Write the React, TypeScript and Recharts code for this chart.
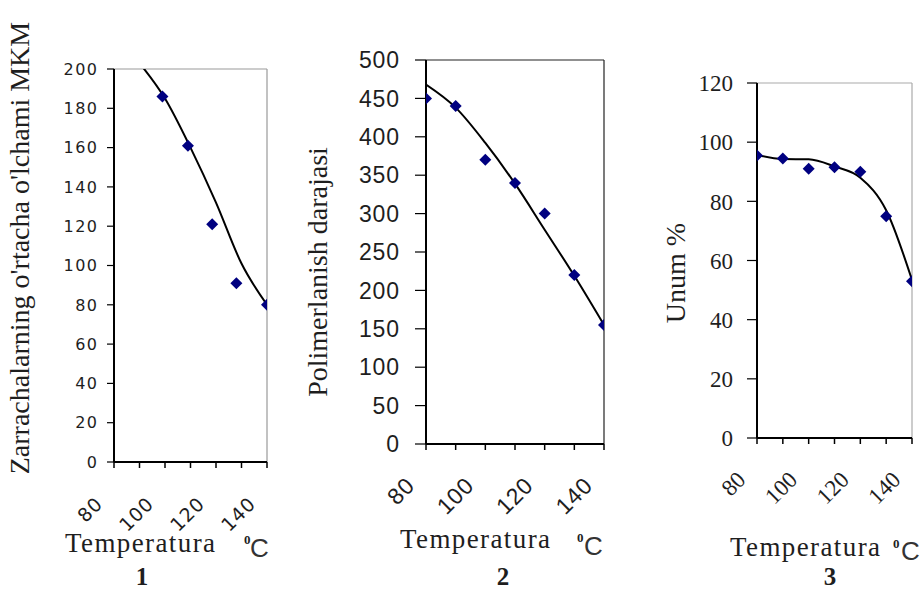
import React from "react";
import { ComposedChart, Line, Scatter, XAxis, YAxis, ReferenceLine } from "recharts";

// temperature categories, degrees C
const temps = [80, 90, 100, 110, 120, 130, 140];
const tempLabels = [80, 100, 120, 140];

// 1: mean particle size, MKM
const sizeTemps = [99, 109, 118.5, 128, 140];
const sizeValues = [186, 161, 121, 91, 80];
const sizeFitTemps = [90, 100, 110, 120, 130, 140];
const sizeFit = [203, 185, 160, 132, 101, 80];
const sizeTicks = [0, 20, 40, 60, 80, 100, 120, 140, 160, 180, 200];

// 2: degree of polymerization
const degreeValues = [450, 440, 370, 340, 300, 220, 155];
const degreeFit = [468, 438, 392, 339, 279, 219, 155];
const degreeTicks = [0, 50, 100, 150, 200, 250, 300, 350, 400, 450, 500];

// 3: yield, %
const yieldValues = [95.5, 94.5, 91, 91.5, 90, 75, 53];
const yieldFit = [95.7, 94.3, 94.2, 91.8, 88, 77, 53.4];
const yieldTicks = [0, 20, 40, 60, 80, 100, 120];

const W = 920;
const H = 592;
const INK = "#1e1e1e";
const SERIF = "'Liberation Serif', 'Times New Roman', serif";
const SANS = "'Liberation Sans', Arial, sans-serif";
const DEJAVU = "'DejaVu Sans', sans-serif";

const zip = (xs: number[], ys: number[]) => xs.map((t, i) => ({ t, y: ys[i] }));

const Diamond = (props: any) => {
  const { cx, cy } = props;
  if (cx == null || cy == null) return <g />;
  const r = 6;
  return (
    <path
      d={`M${cx},${cy - r}L${cx + r},${cy}L${cx},${cy + r}L${cx - r},${cy}Z`}
      fill="#000080"
    />
  );
};

type Font = { family: string; size: number; spacing: number };

function Panel({
  box,
  yMax,
  yTicks,
  points,
  fit,
  font,
  xFont,
  yTickSize,
  yTickGap,
  border,
}: {
  box: { left: number; top: number; right: number; bottom: number };
  yMax: number;
  yTicks: number[];
  points: { t: number; y: number }[];
  fit: { t: number; y: number }[];
  font: Font;
  xFont: Font;
  yTickSize: number;
  yTickGap: number;
  border: string;
}) {
  const yAxisW = 70;
  const xAxisH = 60;
  const margin = {
    top: box.top,
    left: box.left - yAxisW,
    right: W - box.right,
    bottom: H - box.bottom - xAxisH,
  };
  const xTick = (p: any) => {
    const v = p.payload?.value;
    if (!tempLabels.includes(v)) return <g />;
    return (
      <text
        transform={`translate(${p.x - 10},${p.y + 37}) rotate(-45)`}
        textAnchor="end"
        fontFamily={xFont.family}
        fontSize={xFont.size}
        fill={INK}
        style={{ letterSpacing: xFont.spacing }}
      >
        {v}
      </text>
    );
  };
  const yTick = (p: any) => (
    <text
      x={p.x + font.spacing}
      y={p.y}
      dy="0.36em"
      textAnchor="end"
      fontFamily={font.family}
      fontSize={font.size}
      fill={INK}
      style={{ letterSpacing: font.spacing }}
    >
      {p.payload?.value}
    </text>
  );
  return (
    <div style={{ position: "absolute", left: 0, top: 0 }}>
      <ComposedChart width={W} height={H} margin={margin}>
        <XAxis
          type="number"
          dataKey="t"
          domain={[80, 140]}
          ticks={temps}
          interval={0}
          allowDataOverflow
          height={xAxisH}
          axisLine={{ stroke: "#000", strokeWidth: 2 }}
          tickLine={{ stroke: "#000", strokeWidth: 1.5 }}
          tickSize={6}
          tickMargin={0}
          tick={xTick}
        />
        <YAxis
          type="number"
          dataKey="y"
          domain={[0, yMax]}
          ticks={yTicks}
          interval={0}
          allowDataOverflow
          width={yAxisW}
          axisLine={{ stroke: "#000", strokeWidth: 2 }}
          tickLine={{ stroke: "#000", strokeWidth: 1.2 }}
          tickSize={yTickSize}
          tickMargin={yTickGap}
          tick={yTick}
        />
        <ReferenceLine y={yMax} stroke={border} strokeWidth={1.2} />
        <ReferenceLine x={140} stroke={border} strokeWidth={1.2} />
        <Line
          data={fit}
          dataKey="y"
          type="monotone"
          stroke="#000"
          strokeWidth={2}
          dot={false}
          isAnimationActive={false}
        />
        <Scatter data={points} dataKey="y" shape={Diamond} isAnimationActive={false} />
      </ComposedChart>
    </div>
  );
}

function Titles() {
  const ax = { fontFamily: SERIF, fontSize: 28, fill: INK };
  const temp = { fontFamily: SERIF, fontSize: 27, fill: INK, style: { letterSpacing: 1.4 } };
  const deg = { fontFamily: SERIF, fontSize: 13, fontWeight: 700, fill: INK };
  const c = { fontFamily: SANS, fontSize: 26, fill: "#333" };
  const num = { fontFamily: SERIF, fontSize: 25, fontWeight: 700, fill: INK, textAnchor: "middle" as const };
  return (
    <svg width={W} height={H} style={{ position: "absolute", left: 0, top: 0 }}>
      <text transform="translate(29,248) rotate(-90)" textAnchor="middle" {...ax}>
        Zarrachalarning o'rtacha o'lchami MKM
      </text>
      <text transform="translate(327,272) rotate(-90)" textAnchor="middle" {...ax}>
        Polimerlanish darajasi
      </text>
      <text transform="translate(685,273) rotate(-90)" textAnchor="middle" {...ax}>
        Unum %
      </text>

      <text x={65} y={552} {...temp}>Temperatura</text>
      <text x={244} y={544} {...deg}>0</text>
      <text x={250} y={557} {...c}>C</text>
      <text x={142} y={585} {...num}>1</text>

      <text x={400} y={548} {...temp}>Temperatura</text>
      <text x={577} y={542} {...deg}>0</text>
      <text x={584} y={555} {...c}>C</text>
      <text x={503} y={585} {...num}>2</text>

      <text x={730} y={556} {...temp}>Temperatura</text>
      <text x={893} y={548} {...deg}>0</text>
      <text x={901} y={560} {...c}>C</text>
      <text x={830} y={585} {...num}>3</text>
    </svg>
  );
}

export default function App() {
  return (
    <div style={{ position: "absolute", left: 0, top: 0, width: W, height: H, background: "#fff" }}>
      <Panel
        box={{ left: 114, top: 69, right: 267, bottom: 462 }}
        yMax={200}
        yTicks={sizeTicks}
        points={zip(sizeTemps, sizeValues)}
        fit={zip(sizeFitTemps, sizeFit)}
        font={{ family: DEJAVU, size: 16, spacing: 1.5 }}
        xFont={{ family: DEJAVU, size: 19, spacing: 1 }}
        yTickSize={7}
        yTickGap={10}
        border="#999"
      />
      <Panel
        box={{ left: 426, top: 60, right: 604, bottom: 444 }}
        yMax={500}
        yTicks={degreeTicks}
        points={zip(temps, degreeValues)}
        fit={zip(temps, degreeFit)}
        font={{ family: SANS, size: 23, spacing: 0.8 }}
        xFont={{ family: SANS, size: 23, spacing: 0.8 }}
        yTickSize={11}
        yTickGap={16}
        border="#222"
      />
      <Panel
        box={{ left: 757, top: 83, right: 912, bottom: 438 }}
        yMax={120}
        yTicks={yieldTicks}
        points={zip(temps, yieldValues)}
        fit={zip(temps, yieldFit)}
        font={{ family: SERIF, size: 23, spacing: 0 }}
        xFont={{ family: SERIF, size: 23, spacing: 0 }}
        yTickSize={10}
        yTickGap={14}
        border="#aaa"
      />
      <Titles />
    </div>
  );
}
